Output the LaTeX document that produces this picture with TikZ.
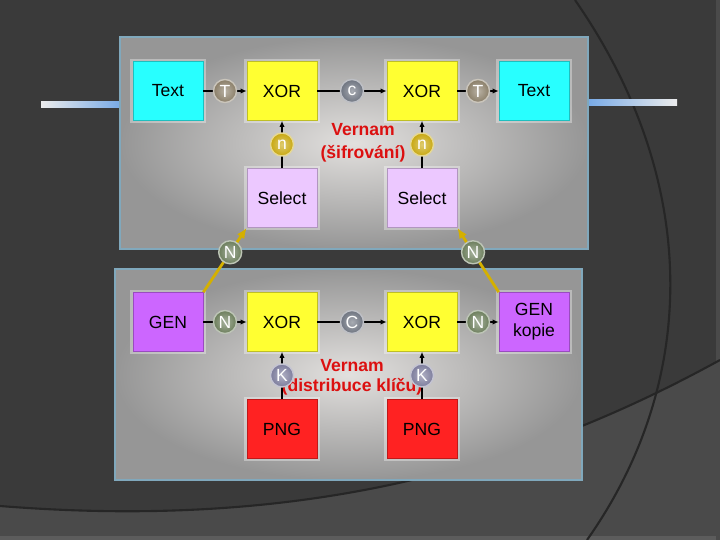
\documentclass[tikz,border=0pt]{standalone}
\usepackage{fontspec}
\setmainfont{Liberation Sans}
\usepackage{xcolor}
\usepackage{tikz}
\usetikzlibrary{arrows.meta, positioning}
\definecolor{bgDark}{RGB}{58, 58, 58}
\definecolor{bgLight}{RGB}{74, 74, 74}
\definecolor{panelEdge}{RGB}{128, 168, 188}
\definecolor{panelIn}{RGB}{226, 224, 222}
\definecolor{panelOut}{RGB}{150, 150, 150}
\definecolor{boxCyan}{RGB}{40, 255, 255}
\definecolor{boxYellow}{RGB}{255, 255, 50}
\definecolor{boxLilac}{RGB}{236, 200, 255}
\definecolor{boxPurple}{RGB}{204, 102, 255}
\definecolor{boxRed}{RGB}{255, 34, 34}
\definecolor{ballT}{RGB}{138, 126, 104}
\definecolor{ballC}{RGB}{110, 116, 128}
\definecolor{ballGold}{RGB}{200, 168, 16}
\definecolor{ballN}{RGB}{108, 126, 92}
\definecolor{ballK}{RGB}{124, 124, 156}
\definecolor{keyYellow}{RGB}{212, 176, 0}
\definecolor{labelRed}{RGB}{220, 16, 16}
\definecolor{streakBlue}{RGB}{120, 170, 230}
\definecolor{streakCyan}{RGB}{150, 230, 235}

\tikzset{
    blok/.style={rectangle, minimum width=1.4cm, minimum height=1.18cm,
        draw=#1!75!black, fill=#1, line width=0.4pt, align=center,
        preaction={draw=white, line width=3pt, opacity=0.35}},
    ball/.style={circle, inner sep=0pt, minimum size=0.46cm, text=white,
        shade, inner color=#1!60!white, outer color=#1,
        draw=white!55!#1, line width=0.8pt},
    conn/.style={draw=black, line width=0.6pt, -{Latex[length=3.5pt, width=3pt]}},
    keyline/.style={draw=keyYellow, line width=1.6pt, -{Latex[length=6pt, width=5pt]}},
    panel/.style={draw=panelEdge, line width=1.2pt, inner color=panelIn, outer color=panelOut},
    vlabel/.style={text=labelRed, align=center, inner sep=0pt}
}

\begin{document}
\begin{tikzpicture}[x=0.02cm, y=-0.02cm, font=\fontsize{10}{12}\selectfont]
    \useasboundingbox (0,0) rectangle (720,540);
    % background
    \fill[bgDark] (0,0) rectangle (720,540);
    \fill[bgLight] (0,506) .. controls (300,530) and (520,470) .. (720,360) -- (720,540) -- (0,540) -- cycle;
    \fill[bgLight!90!white] (0,536) rectangle (720,540);
    \fill[bgLight] (716,0) rectangle (720,540);
    \draw[black!85, line width=1.2pt] (0,506) .. controls (300,530) and (520,470) .. (720,360);
    \draw[black!85, line width=1.2pt] (575,0) .. controls (700,180) and (700,380) .. (587,540);
    \shade[left color=white!85!gray, middle color=streakCyan, right color=streakBlue] (41,102) rectangle (120,108);
    \shade[left color=streakBlue, middle color=streakCyan, right color=white!85!gray] (588,100) rectangle (677,106);

    % panels
    \shadedraw[panel] (120,37) rectangle (588,249);
    \shadedraw[panel] (115,269) rectangle (582,480);

    % encryption row
    \node[blok=boxCyan] (txtA) at (168,91) {Text};
    \node[blok=boxYellow] (xorA) at (282,91) {XOR};
    \node[blok=boxYellow] (xorB) at (422,91) {XOR};
    \node[blok=boxCyan] (txtB) at (534,91) {Text};
    \node[blok=boxLilac] (selA) at (282,198) {Select};
    \node[blok=boxLilac] (selB) at (422,198) {Select};
    \node[vlabel, font=\bfseries\fontsize{10}{13}\selectfont] (sifr) at (363,143) {Vernam\\(šifrování)};

    % key distribution row
    \node[blok=boxPurple] (genA) at (168,322) {GEN};
    \node[blok=boxYellow] (xorC) at (282,322) {XOR};
    \node[blok=boxYellow] (xorD) at (422,322) {XOR};
    \node[blok=boxPurple] (genB) at (534,322) {GEN\\kopie};
    \node[blok=boxRed] (pngA) at (282,429) {PNG};
    \node[blok=boxRed] (pngB) at (422,429) {PNG};
    \node[vlabel, font=\bfseries\fontsize{10}{11.5}\selectfont] (distr) at (352,377) {Vernam\\(distribuce klíču)};

    \draw[conn] (txtA) -- node[ball=ballT] {T} (xorA);
    \draw[conn] (xorA) -- node[ball=ballC] {c} (xorB);
    \draw[conn] (xorB) -- node[ball=ballT] {T} (txtB);
    \draw[conn] (selA) -- node[ball=ballGold] {n} (xorA);
    \draw[conn] (selB) -- node[ball=ballGold] {n} (xorB);

    \draw[conn] (genA) -- node[ball=ballN] {N} (xorC);
    \draw[conn] (xorC) -- node[ball=ballC] {C} (xorD);
    \draw[conn] (xorD) -- node[ball=ballN] {N} (genB);
    \draw[conn] (pngA) -- node[ball=ballK] {K} (xorC);
    \draw[conn] (pngB) -- node[ball=ballK] {K} (xorD);

    % key handed over to the selectors
    \draw[keyline] (genA.north east) -- node[pos=0.62, ball=ballN] {N} (selA.south west);
    \draw[keyline] (genB.north west) -- node[pos=0.62, ball=ballN] {N} (selB.south east);
\end{tikzpicture}
\end{document}
